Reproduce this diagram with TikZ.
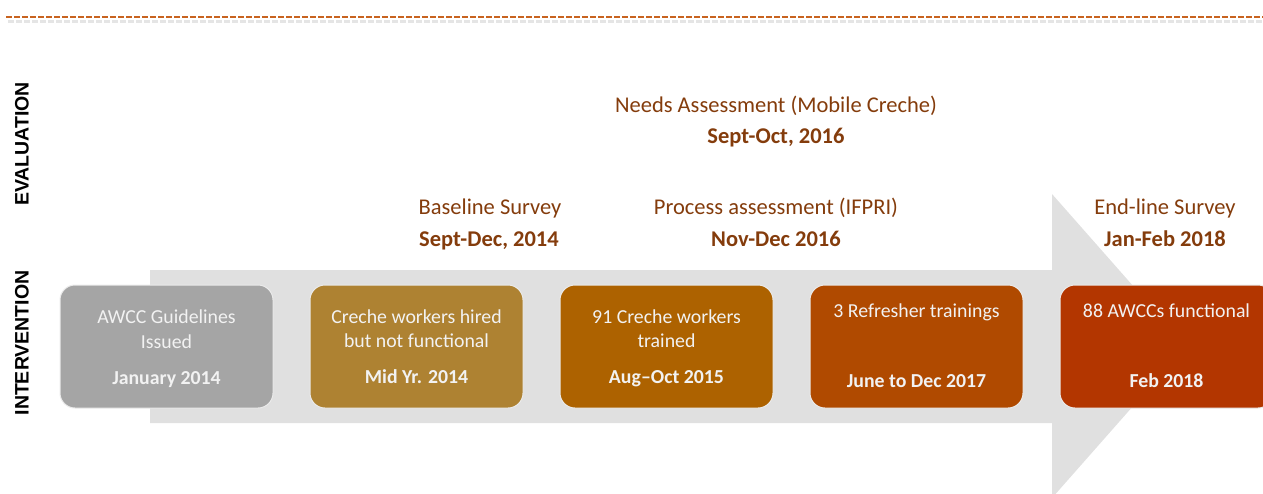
\documentclass[tikz,border=0pt]{standalone}
\usepackage{fontspec}
\setmainfont{Carlito}
\newfontfamily\labelfont{Liberation Sans}
\begin{document}
\begin{tikzpicture}[x=1pt,y=-1pt,
  headtext/.style={text=headbrown,font=\fontsize{22.5}{27}\selectfont,anchor=base,inner sep=0pt},
  headdate/.style={headtext,font=\fontsize{22.5}{27}\selectfont\bfseries},
  stagebox/.style={rounded corners=15pt,draw=white!92!black,line width=1pt},
  boxtext/.style={text=white!95!black,font=\fontsize{19.8}{24}\selectfont,anchor=base,inner sep=0pt},
  boxdate/.style={boxtext,font=\fontsize{19.8}{24}\selectfont\bfseries},
  sidelabel/.style={font=\labelfont\bfseries\fontsize{19.5}{23}\selectfont,rotate=90,inner sep=0pt}]
\definecolor{headbrown}{HTML}{843C0C}
\definecolor{rulecol}{HTML}{C8631F}
\definecolor{arrowgray}{HTML}{E0E0E0}
\definecolor{stageA}{HTML}{A5A5A5}
\definecolor{stageB}{HTML}{AE8232}
\definecolor{stageC}{HTML}{AD6200}
\definecolor{stageD}{HTML}{B04A00}
\definecolor{stageE}{HTML}{B33600}
\useasboundingbox (0,0) rectangle (1263,493);
\clip (0,0) rectangle (1263,493);

% dashed rule along the top, with a soft shadow
\draw[gray!20,line width=3pt,dash pattern=on 6pt off 2pt] (8,21) -- (1263,21);
\draw[rulecol,line width=2pt,dash pattern=on 6pt off 2pt] (6,17) -- (1263,17);

% timeline arrow
\fill[arrowgray] (150,270) -- (1052,270) -- (1052,194) -- (1186,346)
  -- (1052,498) -- (1052,423) -- (150,423) -- cycle;

% side labels
\node[sidelabel] (evallbl) at (22,144) {EVALUATION};
\node[sidelabel] (intlbl) at (22,343) {INTERVENTION};

% evaluation milestones
\node[headtext] (needs) at (776,112) {Needs Assessment (Mobile Creche)};
\node[headdate] (needsd) at (776,143) {Sept-Oct, 2016};
\node[headtext] (base) at (490,214) {Baseline Survey};
\node[headdate] (based) at (489,246) {Sept-Dec, 2014};
\node[headtext] (proc) at (776,214) {Process assessment (IFPRI)};
\node[headdate] (procd) at (776,246) {Nov-Dec 2016};
\node[headtext] (endl) at (1165,214) {End-line Survey};
\node[headdate] (endld) at (1165,246) {Jan-Feb 2018};

% intervention stages
\filldraw[stagebox,fill=stageA] (60,285) rectangle (273,408);
\filldraw[stagebox,fill=stageB] (310,285) rectangle (523,408);
\filldraw[stagebox,fill=stageC] (560,285) rectangle (773,408);
\filldraw[stagebox,fill=stageD] (810,285) rectangle (1023,408);
\filldraw[stagebox,fill=stageE] (1060,285) rectangle (1273,408);

\node[boxtext] (a1) at (166.5,323) {AWCC Guidelines};
\node[boxtext] (a2) at (166.5,348) {Issued};
\node[boxdate] (a3) at (166.5,384) {January 2014};

\node[boxtext] (b1) at (416.5,323) {Creche workers hired};
\node[boxtext] (b2) at (416.5,347) {but not functional};
\node[boxdate] (b3) at (416.5,383) {Mid Yr. 2014};

\node[boxtext] (c1) at (666.5,323) {91 Creche workers};
\node[boxtext] (c2) at (666.5,347) {trained};
\node[boxdate] (c3) at (666.5,383) {Aug--Oct 2015};

\node[boxtext] (d1) at (916.5,317) {3 Refresher trainings};
\node[boxdate] (d3) at (916.5,387) {June to Dec 2017};

\node[boxtext] (e1) at (1166.5,317) {88 AWCCs functional};
\node[boxdate] (e3) at (1166.5,387) {Feb 2018};
\end{tikzpicture}
\end{document}
